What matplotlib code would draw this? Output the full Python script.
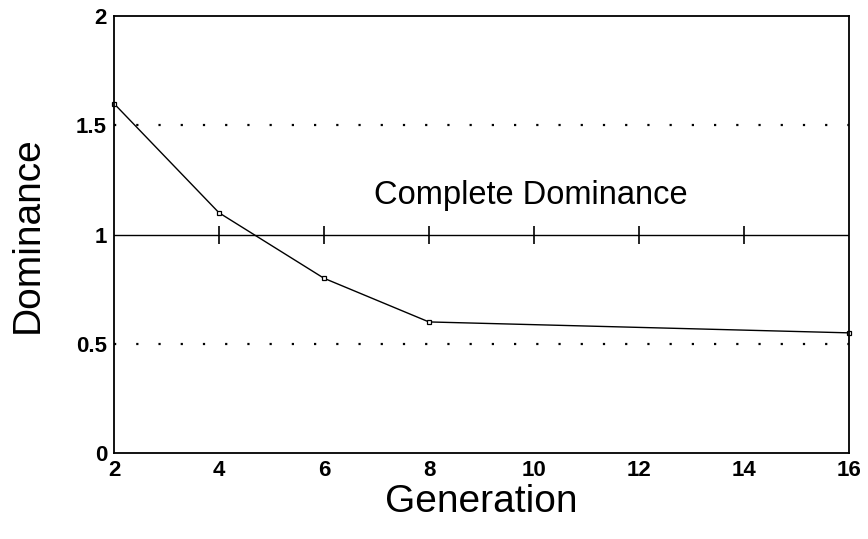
import matplotlib
matplotlib.use("Agg")
import matplotlib.pyplot as plt

generation = [2, 4, 6, 8, 16]
dominance = [1.6, 1.1, 0.8, 0.6, 0.55]
xticks = [2, 4, 6, 8, 10, 12, 14, 16]
yticks = [0, 0.5, 1, 1.5, 2]
ytick_labels = ["0", "0.5", "1", "1.5", "2"]
ref_ticks = [4, 6, 8, 10, 12, 14]

plt.rcParams['font.family'] = ['Liberation Sans', 'DejaVu Sans']
fig = plt.figure(figsize=(8.68, 5.39), dpi=100)
ax = fig.add_axes([0.1313, 0.1596, 0.978 - 0.1313, 0.970 - 0.1596])

ax.axhline(1.0, color='black', lw=1.0)
for yv in (0.5, 1.5):
    ax.axhline(yv, color='black', lw=1.6, linestyle=(0, (1, 9)))
ax.plot(ref_ticks, [1.0] * len(ref_ticks), linestyle='none', marker='|',
        markersize=13, markeredgewidth=1.2, color='black')
ax.plot(generation, dominance, color='black', lw=1.0, marker='s',
        markersize=3.5, markerfacecolor='white', markeredgewidth=0.9, clip_on=False)

ax.text(9.95, 1.18, "Complete Dominance", fontsize=23.5, ha='center', va='center')

ax.set_xlim(2, 16)
ax.set_ylim(0, 2)
ax.set_xticks(xticks)
ax.set_xticklabels([str(x) for x in xticks], fontweight='bold', fontsize=16)
ax.set_yticks(yticks)
ax.set_yticklabels(ytick_labels, fontweight='bold', fontsize=16)
ax.tick_params(length=0, pad=5)
for s in ax.spines.values():
    s.set_linewidth(1.3)

ax.set_xlabel("Generation", fontsize=28, labelpad=2)
ax.set_ylabel("Dominance", fontsize=28, labelpad=22)

fig.savefig("out.png", dpi=100)
